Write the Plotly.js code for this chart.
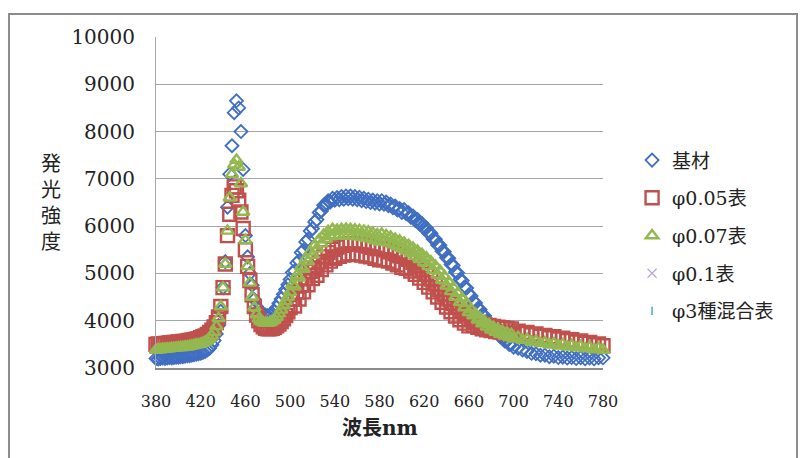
<!DOCTYPE html>
<html>
<head>
<meta charset="utf-8">
<script src="https://cdn.plot.ly/plotly-3.0.1.min.js"></script>
<style>html,body{margin:0;padding:0;background:#fff;}#chart{width:800px;height:458px;}</style>
</head>
<body>
<div id="chart"></div>
<script>
// wavelength (nm)
const wavelength = [
380,382,384,386,388,390,392,394,396,398,400,402,404,406,408,410,412,414,416,418,
420,422,424,426,428,430,432,434,436,438,440,442,444,446,448,450,452,454,456,458,
460,462,464,466,468,470,472,474,476,478,480,482,484,486,488,490,492,494,496,498,500,
502,504,506,508,510,512,514,516,518,520,
522,524,526,528,530,532,534,536,538,540,
542,544,546,548,550,552,554,556,558,560,
562,564,566,568,570,572,574,576,578,580,
582,584,586,588,590,592,594,596,598,600,
602,604,606,608,610,612,614,616,618,620,
622,624,626,628,630,632,634,636,638,640,
642,644,646,648,650,652,654,656,658,660,
662,664,666,668,670,672,674,676,678,680,
682,684,686,688,690,692,694,696,698,700,
704,708,712,716,720,724,728,732,736,740,744,748,752,756,760,764,768,772,776,780];

// 基材
const kizai = [
3200,3190,3200,3210,3200,3210,3220,3210,3220,3230,3230,3240,3240,3250,3260,3260,3270,3280,3290,3300,
3310,3330,3350,3380,3420,3490,3580,3720,3900,4200,4700,5250,6400,7100,7700,8400,8650,8500,8000,7200,
5800,5350,5000,4750,4450,4300,4230,4180,4140,4120,4110,4120,4150,4200,4280,4370,4460,4560,4660,4760,4870,
5020,5050,5220,5270,5440,5490,5665,5720,5895,5950,
6090,6140,6290,6320,6440,6440,6535,6510,6590,6550,
6605,6560,6625,6570,6635,6580,6635,6570,6625,6560,
6610,6540,6590,6520,6570,6500,6552,6485,6538,6470,
6538,6465,6508,6430,6470,6390,6425,6340,6375,6290,
6350,6260,6285,6190,6215,6120,6140,6040,6055,5950,
5960,5850,5850,5730,5725,5600,5595,5470,5460,5330,
5320,5190,5170,5030,5010,4870,4850,4710,4690,4550,
4525,4410,4375,4260,4235,4130,4105,4000,3975,3870,
3855,3760,3750,3660,3655,3570,3575,3500,3510,3440,
3420,3380,3350,3310,3300,3270,3270,3240,3250,3220,3230,3210,3220,3200,3215,3195,3210,3195,3215,3215];

// φ0.05表
const phi005 = [
3500,3510,3500,3510,3520,3520,3530,3530,3540,3540,3550,3550,3560,3560,3570,3580,3590,3600,3610,3620,
3640,3660,3680,3710,3750,3800,3870,3960,4080,4300,4700,5200,5800,6250,6650,6830,6750,6550,6300,5950,
5500,5150,4850,4550,4300,4120,4000,3920,3870,3840,3830,3830,3840,3860,3890,3930,3980,4040,4110,4190,4280,
4460,4310,4605,4460,4755,4610,4905,4760,5045,4890,
5115,4960,5240,5080,5350,5180,5440,5260,5510,5320,
5560,5360,5595,5390,5620,5410,5630,5410,5625,5400,
5615,5390,5600,5370,5580,5350,5555,5320,5525,5290,
5525,5290,5495,5260,5460,5220,5420,5180,5375,5130,
5355,5110,5300,5050,5235,4980,5160,4900,5075,4810,
4980,4710,4880,4610,4775,4500,4665,4390,4560,4290,
4460,4190,4365,4100,4280,4020,4205,3950,4140,3890,
4025,3900,3980,3860,3945,3830,3920,3810,3900,3790,
3880,3770,3865,3760,3850,3740,3835,3730,3825,3720,
3780,3730,3750,3700,3720,3670,3690,3640,3660,3610,3630,3580,3600,3550,3570,3520,3540,3490,3510,3470];

// φ0.07表
const phi007 = [
3380,3390,3390,3400,3400,3410,3410,3420,3420,3430,3430,3440,3440,3450,3450,3460,3470,3480,3490,3500,
3510,3530,3550,3580,3620,3680,3760,3880,4050,4300,4700,5200,5900,6600,7100,7300,7400,7250,6900,6300,
5700,5150,4800,4500,4280,4130,4040,3990,3960,3950,3950,3960,3990,4020,4080,4150,4230,4320,4410,4500,4600,
4765,4720,4955,4910,5140,5090,5310,5250,5460,5390,
5595,5520,5715,5630,5815,5720,5890,5780,5935,5810,
5920,5790,5935,5800,5940,5800,5935,5790,5925,5780,
5915,5770,5900,5750,5880,5730,5855,5700,5825,5670,
5835,5680,5805,5650,5770,5610,5730,5570,5690,5530,
5645,5480,5595,5430,5540,5370,5475,5300,5405,5230,
5330,5150,5250,5070,5160,4970,5055,4860,4940,4740,
4820,4620,4705,4500,4585,4390,4475,4280,4370,4180,
4240,4110,4145,4020,4060,3940,3985,3870,3920,3810,
3865,3760,3820,3720,3780,3680,3745,3650,3715,3620,
3650,3590,3610,3550,3570,3520,3540,3490,3520,3470,3500,3450,3480,3430,3460,3410,3440,3390,3420,3380];

// φ0.1表, φ3種混合表 (no visible points in the chart)
const phi01 = [null];
const phi3 = [null];

const tickWavelengths = [380,420,460,500,540,580,620,660,700,740,780];
const seriesNames = ['基材','φ0.05表','φ0.07表','φ0.1表','φ3種混合表'];

const serif = 'DejaVu Serif, Liberation Serif, Noto Sans CJK JP, serif';

const traces = [
  {x: wavelength, y: kizai, name: seriesNames[0], legendgroup: 'a', type: 'scatter', mode: 'markers', cliponaxis: false,
   marker: {symbol: 'diamond-open', size: 10, color: '#3F6EC2', line: {width: 1.8, color: '#3F6EC2'}}},
  {x: wavelength, y: phi005, name: seriesNames[1], legendgroup: 'b', type: 'scatter', mode: 'markers', cliponaxis: false,
   marker: {symbol: 'square-open', size: 13, color: '#C0504D', line: {width: 2.4, color: '#C0504D'}}},
  {x: wavelength, y: phi007, name: seriesNames[2], legendgroup: 'c', type: 'scatter', mode: 'markers', cliponaxis: false,
   marker: {symbol: 'triangle-up-open', size: 11, color: '#94B850', line: {width: 2.4, color: '#94B850'}}},
  {x: phi01, y: phi01, name: seriesNames[3], legendgroup: 'd', type: 'scatter', mode: 'markers',
   marker: {symbol: 'x-thin-open', size: 9, color: '#B6A6CC', line: {width: 1.2, color: '#B6A6CC'}}},
  {x: phi3, y: phi3, name: seriesNames[4], legendgroup: 'e', type: 'scatter', mode: 'markers',
   marker: {symbol: 'line-ns-open', size: 6, color: '#4BACC6', line: {width: 1.5, color: '#4BACC6'}}}
];

const layout = {
  width: 800, height: 458,
  margin: {l: 156, r: 197, t: 37, b: 90},
  paper_bgcolor: '#ffffff', plot_bgcolor: '#ffffff',
  font: {family: serif, color: '#222'},
  showlegend: true,
  legend: {x: 1.065, y: 0.685, xanchor: 'left', yanchor: 'top', traceorder: 'grouped', tracegroupgap: 10,
           font: {family: serif, size: 19, color: '#222'}, bgcolor: 'rgba(0,0,0,0)', itemwidth: 30},
  xaxis: {range: [380, 780], tickvals: tickWavelengths, ticktext: tickWavelengths.map(String),
          showgrid: false, zeroline: false, showline: true, linecolor: '#8c8c8c', linewidth: 1.5,
          ticks: '', ticklabelstandoff: 18, tickfont: {family: serif, size: 16, color: '#222'}},
  yaxis: {range: [3000, 10000], dtick: 1000, tick0: 3000, tickformat: 'd', showgrid: true, gridcolor: '#a6a6a6', gridwidth: 1,
          zeroline: false, showline: true, linecolor: '#a6a6a6', linewidth: 1,
          ticks: '', ticklabelstandoff: 16, tickfont: {family: serif, size: 20, color: '#222'}},
  annotations: [
    {text: '<b>波長nm</b>', xref: 'paper', yref: 'paper', x: 0.501, y: -0.181, xanchor: 'center', yanchor: 'middle',
     showarrow: false, font: {family: serif, size: 20, color: '#222'}},
    {text: '発<br>光<br>強<br>度', xref: 'paper', yref: 'paper', x: -0.235, y: 0.5, xanchor: 'center', yanchor: 'middle',
     showarrow: false, font: {family: serif, size: 20, color: '#222'}}
  ],
  shapes: [
    {type: 'rect', xref: 'paper', yref: 'paper', x0: -0.3289, x1: 1.434, y0: -0.31, y1: 1.0695,
     line: {color: '#8c8c8c', width: 2}, fillcolor: 'rgba(0,0,0,0)', layer: 'below'}
  ]
};

Plotly.newPlot('chart', traces, layout, {displayModeBar: false, staticPlot: true});
</script>
</body>
</html>
